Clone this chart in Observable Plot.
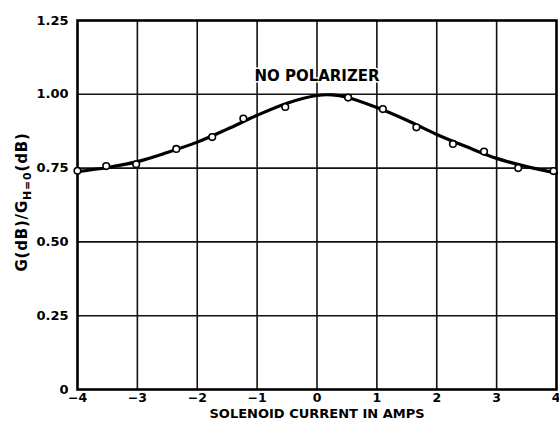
<!DOCTYPE html>
<html>
<head>
<meta charset="utf-8">
<script src="https://cdn.jsdelivr.net/npm/d3@7"></script>
<script src="https://cdn.jsdelivr.net/npm/@observablehq/plot@0.6"></script>
<style>
  html, body { margin: 0; padding: 0; background: #fff; }
  #chart svg { display: block; }
</style>
</head>
<body>
<div id="chart"></div>
<script>
// Measured points (open circles)
const pointX = [-4.0, -3.52, -3.02, -2.35, -1.75, -1.23, -0.53, 0.52, 1.10, 1.66, 2.27, 2.79, 3.36, 3.95];
const pointY = [0.741, 0.757, 0.763, 0.815, 0.855, 0.918, 0.957, 0.989, 0.950, 0.888, 0.832, 0.806, 0.750, 0.740];

// Smooth fitted curve
const curveX = [-4, -3.5, -3, -2.5, -2, -1.5, -1, -0.5, 0, 0.25, 0.5, 1, 1.5, 2, 2.5, 3, 3.5, 4];
const curveY = [0.738, 0.752, 0.772, 0.803, 0.838, 0.882, 0.929, 0.970, 0.996, 0.998, 0.990, 0.955, 0.912, 0.864, 0.822, 0.783, 0.755, 0.733];

// Axes
const xTicks = [-4, -3, -2, -1, 0, 1, 2, 3, 4];
const yTicks = [0, 0.25, 0.5, 0.75, 1.0, 1.25];
const yTickLabels = ["0", "0.25", "0.50", "0.75", "1.00", "1.25"];
const xLabel = ["SOLENOID CURRENT IN AMPS"];
const annotationText = ["NO POLARIZER"];
const annotationX = [0];
const annotationY = [1.062];

const points = pointX.map((x, i) => ({x, y: pointY[i]}));
const curve = curveX.map((x, i) => ({x, y: curveY[i]}));
const annotations = annotationText.map((t, i) => ({text: t, x: annotationX[i], y: annotationY[i]}));

const chart = Plot.plot({
  width: 559,
  height: 421,
  marginLeft: 77,
  marginRight: 3,
  marginTop: 20,
  marginBottom: 32,
  style: {fontFamily: "DejaVu Sans", fontSize: "13px", fontWeight: "bold", background: "#fff", color: "#000"},
  x: {domain: [-4, 4]},
  y: {domain: [0, 1.25]},
  marks: [
    Plot.ruleX(xTicks.slice(1, -1), {stroke: "#111", strokeWidth: 1.6}),
    Plot.ruleY(yTicks.slice(1, -1), {stroke: "#111", strokeWidth: 1.6}),
    Plot.frame({stroke: "#000", strokeWidth: 2.6}),
    Plot.line(curve, {x: "x", y: "y", curve: "catmull-rom", stroke: "#000", strokeWidth: 3.2}),
    Plot.dot(points, {x: "x", y: "y", r: 3.3, fill: "#fff", stroke: "#000", strokeWidth: 1.6}),
    Plot.text(annotations, {x: "x", y: "y", text: "text", fontSize: 15, fontWeight: "bold", fill: "#000", textAnchor: "middle", stroke: "#fff", strokeWidth: 3, paintOrder: "stroke"}),
    Plot.axisX({ticks: xTicks.slice(0, -1), tickSize: 0, tickPadding: 4, fontSize: 12.5, label: null}),
    Plot.axisX({ticks: xTicks.slice(-1), tickSize: 0, tickPadding: 4, fontSize: 12.5, label: null, textAnchor: "end", dx: 4}),
    Plot.text(xLabel, {frameAnchor: "bottom", text: (d) => d, dy: 24.5, lineAnchor: "middle", fontSize: 13, fontWeight: "bold", fill: "#000"}),
    Plot.axisY({ticks: yTicks, tickSize: 0, tickPadding: 9, fontSize: 13, tickFormat: (d) => yTickLabels[yTicks.indexOf(d)], label: null})
  ]
});

document.getElementById("chart").appendChild(chart);

// Y-axis title with subscript
const svg = d3.select(chart);
const t = svg.append("text")
  .attr("transform", "translate(27,202) rotate(-90)")
  .attr("text-anchor", "middle")
  .attr("font-family", "DejaVu Sans")
  .attr("font-weight", "bold")
  .attr("font-size", 15)
  .attr("letter-spacing", 0.8)
  .attr("fill", "#000");
t.append("tspan").text("G(dB)/G");
t.append("tspan").attr("font-size", 11).attr("dy", 4).text("H=0");
t.append("tspan").attr("dy", -4).text("(dB)");
</script>
</body>
</html>
